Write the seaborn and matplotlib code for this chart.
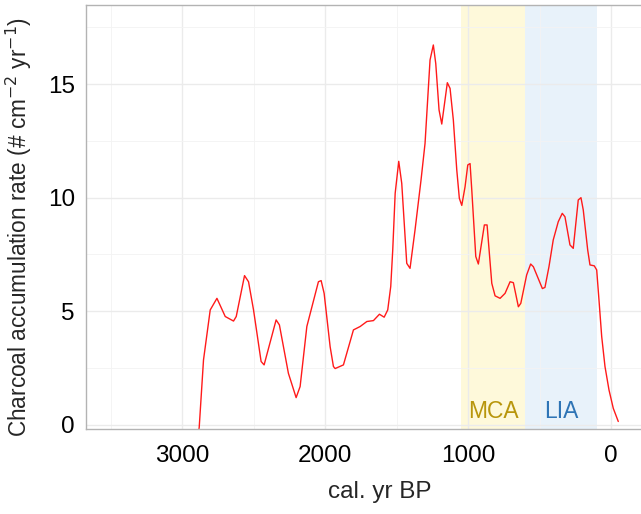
import numpy as np
import pandas as pd
import matplotlib
matplotlib.use("Agg")
import matplotlib.pyplot as plt
import seaborn as sns
from matplotlib.ticker import MultipleLocator

# Charcoal accumulation record (cal. yr BP vs. particles cm^-2 yr^-1)
age_bp = [2895, 2881, 2851, 2804, 2757, 2699, 2641, 2622, 2564, 2536, 2501, 2448, 2427,
          2343, 2320, 2257, 2203, 2175, 2128, 2047, 2028, 2007, 1965, 1942, 1930, 1872,
          1802, 1755, 1708, 1662, 1620, 1587, 1562, 1541, 1527, 1510, 1485, 1464, 1429,
          1406, 1371, 1329, 1301, 1266, 1243, 1226, 1203, 1184, 1145, 1126, 1103, 1079,
          1061, 1044, 1021, 1002, 986, 974, 946, 928, 886, 867, 834, 811, 776, 741, 706,
          683, 648, 631, 590, 562, 543, 480, 462, 434, 404, 369, 341, 322, 287, 264, 229,
          210, 194, 163, 147, 117, 100, 84, 65, 42, 14, -16, -51]
charcoal = [-0.8, -0.1, 2.86, 5.06, 5.57, 4.77, 4.57, 4.77, 6.57, 6.30, 5.06, 2.79, 2.64,
            4.62, 4.40, 2.27, 1.20, 1.69, 4.33, 6.30, 6.35, 5.79, 3.44, 2.57, 2.48, 2.64,
            4.18, 4.33, 4.55, 4.59, 4.87, 4.74, 5.06, 6.09, 7.70, 10.19, 11.60, 10.63, 7.11,
            6.89, 8.58, 10.78, 12.39, 16.06, 16.72, 15.90, 13.86, 13.24, 15.06, 14.81, 13.42,
            11.22, 9.97, 9.66, 10.48, 11.44, 11.50, 10.34, 7.41, 7.08, 8.80, 8.80, 6.23, 5.68,
            5.57, 5.79, 6.30, 6.26, 5.20, 5.35, 6.60, 7.08, 6.96, 6.00, 6.05, 6.96, 8.14,
            8.94, 9.31, 9.16, 7.92, 7.77, 9.90, 10.00, 9.46, 7.70, 7.04, 7.00, 6.82, 5.50,
            3.89, 2.57, 1.54, 0.73, 0.15]

# Climate anomaly periods (cal. yr BP)
periods = ["MCA", "LIA"]
period_start = [1050, 600]
period_end = [600, 100]
period_fill = ["#FEF9DA", "#E8F2FA"]
period_text = ["#B8960C", "#2E74B5"]

x_ticks = [3000, 2000, 1000, 0]
y_ticks = [0, 5, 10, 15]

df = pd.DataFrame({"age": age_bp, "rate": charcoal})

sns.set_theme(style="white")
plt.rcParams["font.family"] = ["Liberation Sans", "DejaVu Sans"]

fig = plt.figure(figsize=(6.41, 5.14), dpi=100)
ax = fig.add_axes([0.1342, 0.1654, 0.8658, 0.8249])

for name, s, e, fc, tc in zip(periods, period_start, period_end, period_fill, period_text):
    ax.axvspan(s, e, color=fc, lw=0, zorder=0.5)
    ax.text((s + e) / 2, 0.6, name, color=tc, fontsize=16.5,
            ha="center", va="center", zorder=3)

sns.lineplot(data=df, x="age", y="rate", ax=ax, color="#FF1A1A", lw=1.0,
             estimator=None, zorder=2)

ax.set_xlim(3673, -210)
ax.set_ylim(-0.18, 18.48)
ax.set_xticks(x_ticks)
ax.set_yticks(y_ticks)
ax.xaxis.set_minor_locator(MultipleLocator(500))
ax.yaxis.set_minor_locator(MultipleLocator(2.5))

ax.grid(which="major", color="#EBEBEB", lw=1.0, zorder=0)
ax.grid(which="minor", color="#F3F3F3", lw=0.6, zorder=0)
ax.set_axisbelow(True)

for side in ["left", "top", "bottom"]:
    ax.spines[side].set_color("#B3B3B3")
    ax.spines[side].set_linewidth(1.0)
ax.spines["right"].set_visible(False)

ax.tick_params(axis="both", which="major", length=3, width=0.8, color="#B3B3B3",
               labelsize=17.5, labelcolor="black", pad=5)
ax.tick_params(axis="both", which="minor", length=0)
ax.tick_params(axis="x", pad=8.5)

ax.set_xlabel("cal. yr BP", fontsize=17.5)
ax.set_ylabel("Charcoal accumulation rate (# cm$^{-2}$ yr$^{-1}$)", fontsize=16.3)
ax.xaxis.set_label_coords((380 - 86) / (0.8658 * 641), -0.122)
ax.yaxis.set_label_coords(-(86 - 34) / (0.8658 * 641), 0.476)

fig.savefig("out.png", dpi=100)
